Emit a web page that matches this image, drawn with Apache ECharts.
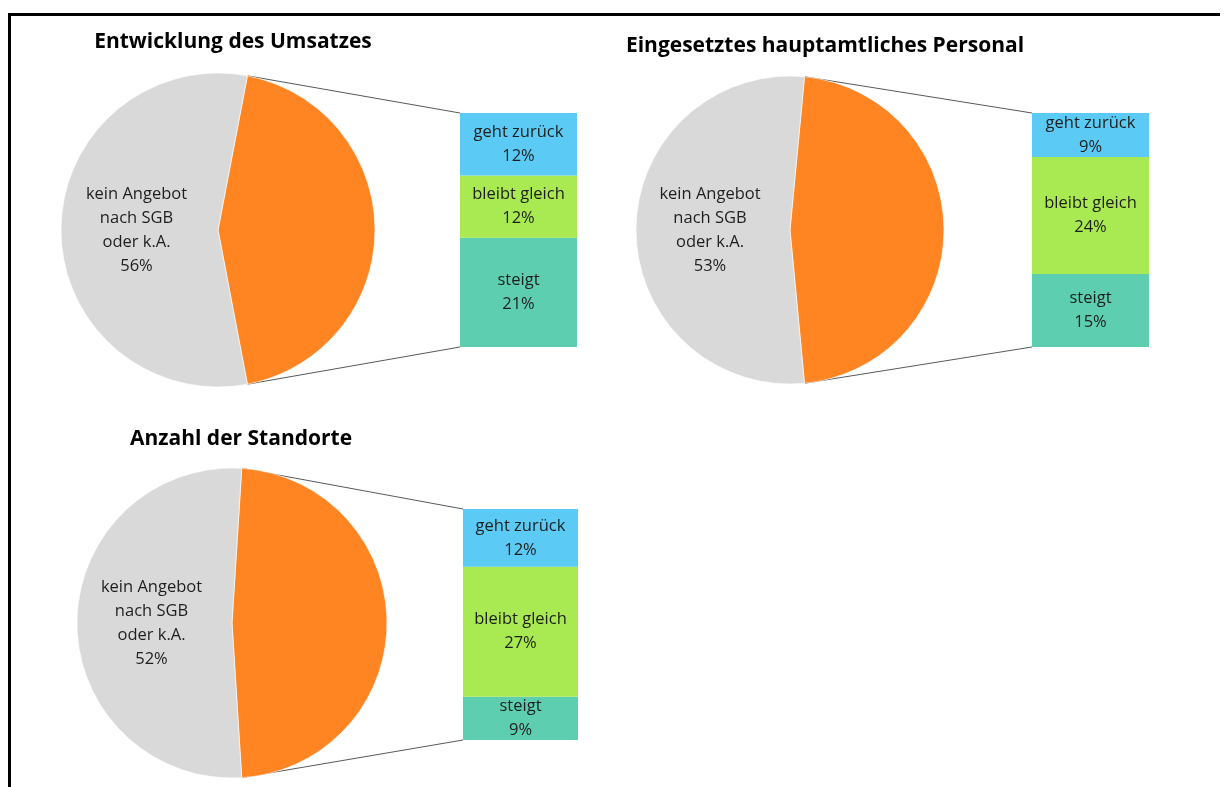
<!DOCTYPE html>
<html lang="de">
<head>
<meta charset="utf-8">
<title>Entwicklung nach Angeboten</title>
<script src="https://cdn.jsdelivr.net/npm/echarts@6/dist/echarts.min.js"></script>
<style>
  html, body { margin: 0; padding: 0; background: #fff; }
  #frame {
    position: absolute; left: 8px; top: 13px; width: 1212px; height: 774px;
    border-top: 3px solid #000; border-left: 3px solid #000; box-sizing: border-box;
  }
  #chart { position: absolute; left: 0; top: 0; width: 1224px; height: 787px; }
</style>
</head>
<body>
<div id="frame"></div>
<div id="chart"></div>
<script>
// Panel titles
const titles = ['Entwicklung des Umsatzes', 'Eingesetztes hauptamtliches Personal', 'Anzahl der Standorte'];

// Share without an offer (grey slice), in percent
const keinAngebot = [56, 53, 52];
const keinAngebotLabel = 'kein Angebot\nnach SGB\noder k.A.';

// Breakdown of the remaining share (stacked column), in percent
const segmentNames = ['geht zurück', 'bleibt gleich', 'steigt'];
const gehtZurueck = [12, 9, 12];
const bleibtGleich = [12, 24, 27];
const steigt = [21, 15, 9];

// Layout of the three panels (pixels)
const layout = [
  { title: [233, 42], center: [218, 230], r: 157, box: { x: 460, y: 113, w: 117, h: 234 } },
  { title: [825, 46], center: [790, 230], r: 154, box: { x: 1032, y: 113, w: 117, h: 234 } },
  { title: [241, 439], center: [232, 623], r: 155, box: { x: 463, y: 509, w: 115, h: 231 } }
];

const COLORS = {
  grey: '#D9D9D9', orange: '#FF8422',
  'geht zurück': '#5BCBF5', 'bleibt gleich': '#A9EA52', 'steigt': '#5DCFB0'
};
const FONT = '"Open Sans", Lato, sans-serif';
const TEXT = '#1E1E1E';
const LABEL_SIZE = 16.5;

const series = [], grids = [], xAxes = [], yAxes = [], graphics = [];

layout.forEach((p, i) => {
  const grey = keinAngebot[i];
  const rest = 100 - grey;
  // the "rest" slice is centred on 3 o'clock
  const start = 360 * rest / 100 / 2;

  series.push({
    type: 'pie', silent: true, animation: false,
    center: p.center, radius: p.r,
    startAngle: start, clockwise: true,
    avoidLabelOverlap: false,
    labelLine: { show: false },
    emphasis: { disabled: true },
    itemStyle: { borderColor: '#fff', borderWidth: 0.6 },
    data: [
      { value: rest, name: 'übrige', itemStyle: { color: COLORS.orange }, label: { show: false } },
      {
        value: grey, name: keinAngebotLabel, itemStyle: { color: COLORS.grey },
        label: {
          show: true, position: 'inside', formatter: '{b}\n{c}%',
          color: TEXT, fontFamily: FONT, fontSize: LABEL_SIZE, lineHeight: 24
        }
      }
    ]
  });

  // stacked breakdown column
  const b = p.box;
  grids.push({ left: b.x, top: b.y, width: b.w, height: b.h, containLabel: false });
  xAxes.push({ type: 'category', gridIndex: i, data: [''], show: false });
  const parts = { 'geht zurück': gehtZurueck[i], 'bleibt gleich': bleibtGleich[i], 'steigt': steigt[i] };
  const total = gehtZurueck[i] + bleibtGleich[i] + steigt[i];
  yAxes.push({ type: 'value', gridIndex: i, min: 0, max: total, show: false });
  // bottom to top: steigt, bleibt gleich, geht zurück
  segmentNames.slice().reverse().forEach(name => {
    series.push({
      type: 'bar', name: name, xAxisIndex: i, yAxisIndex: i, stack: 'col' + i,
      barWidth: '100%', silent: true, animation: false,
      itemStyle: { color: COLORS[name] },
      label: {
        show: true, position: 'inside', formatter: p => p.seriesName + '\n' + p.value + '%',
        color: TEXT, fontFamily: FONT, fontSize: LABEL_SIZE, lineHeight: 24
      },
      data: [parts[name]]
    });
  });

  // connector lines from the edge of the rest slice to the column
  const a = start * Math.PI / 180;
  const topPt = [p.center[0] + p.r * Math.cos(a), p.center[1] - p.r * Math.sin(a)];
  const botPt = [p.center[0] + p.r * Math.cos(a), p.center[1] + p.r * Math.sin(a)];
  graphics.push(
    { type: 'line', silent: true, z: 1, shape: { x1: topPt[0], y1: topPt[1], x2: b.x, y2: b.y }, style: { stroke: '#595959', lineWidth: 1 } },
    { type: 'line', silent: true, z: 1, shape: { x1: botPt[0], y1: botPt[1], x2: b.x, y2: b.y + b.h }, style: { stroke: '#595959', lineWidth: 1 } }
  );

  graphics.push({
    type: 'text', silent: true, x: p.title[0], y: p.title[1],
    style: { text: titles[i], align: 'center', verticalAlign: 'middle', fill: '#000',
             font: 'bold 21px ' + FONT }
  });
});

const chart = echarts.init(document.getElementById('chart'), null, { renderer: 'canvas' });
chart.setOption({
  animation: false,
  grid: grids, xAxis: xAxes, yAxis: yAxes,
  series: series,
  graphic: graphics
});
</script>
</body>
</html>
